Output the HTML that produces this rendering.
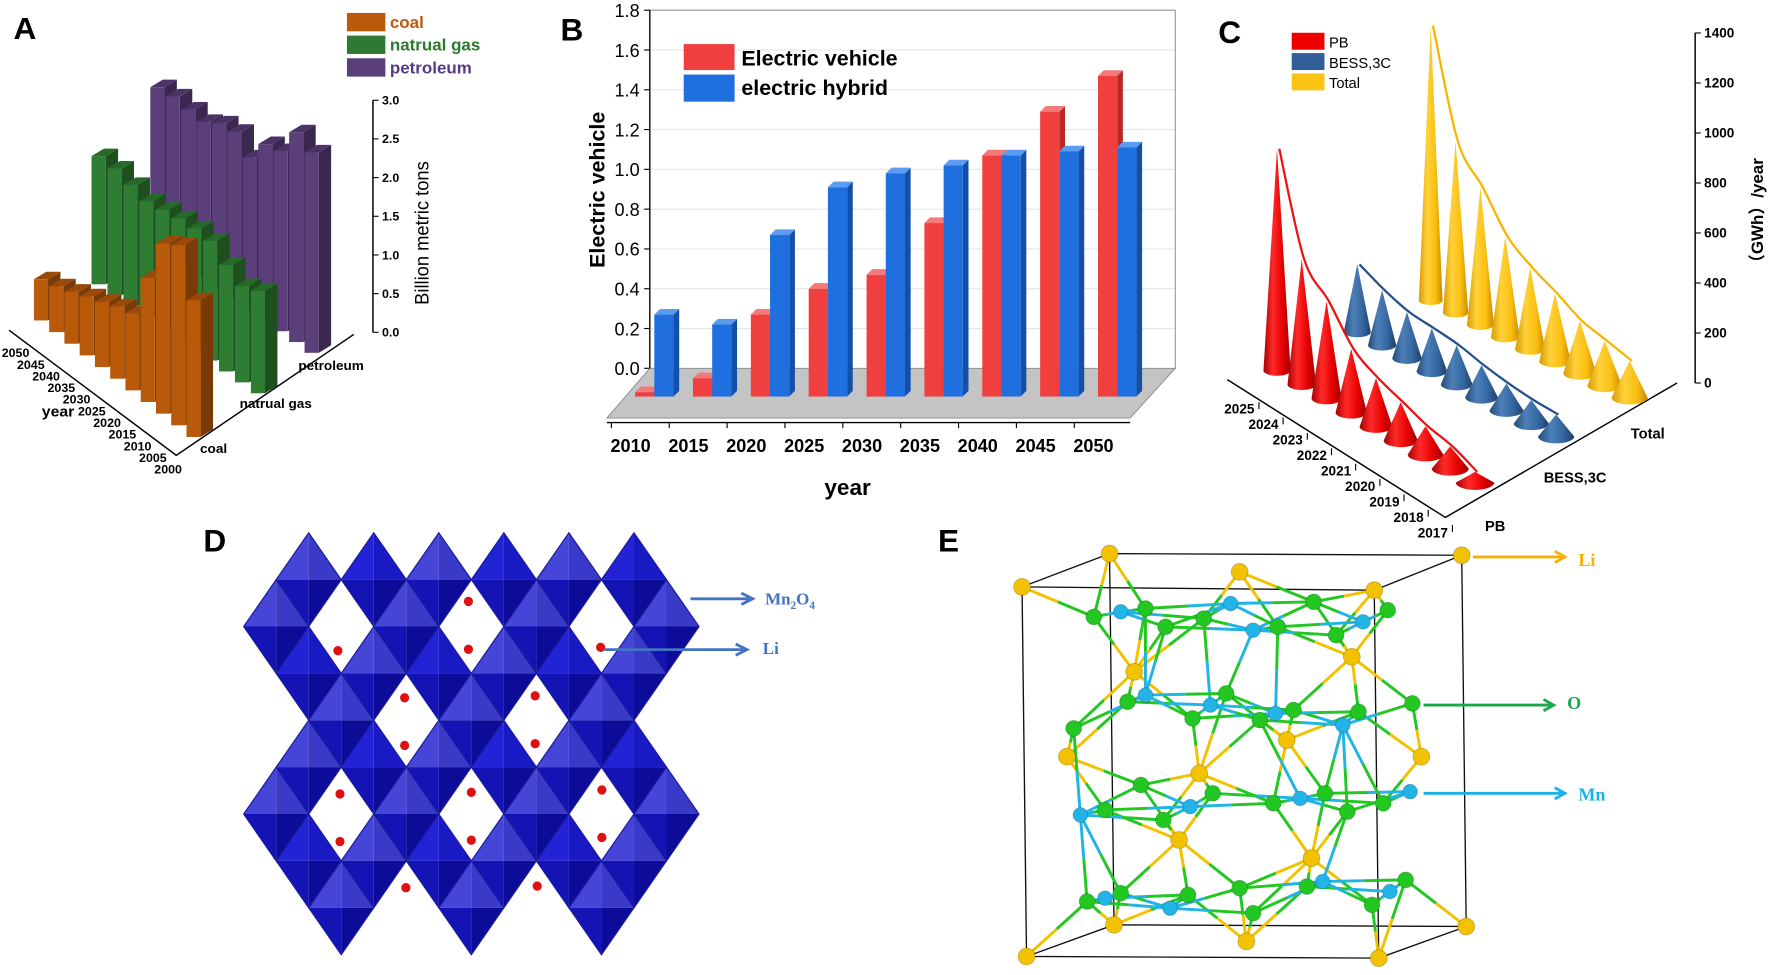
<!DOCTYPE html>
<html><head><meta charset="utf-8">
<style>
html,body{margin:0;padding:0;background:#fff;overflow:hidden;}
svg{display:block;font-family:"Liberation Sans",sans-serif;}
</style></head>
<body>
<svg id="fig" xmlns="http://www.w3.org/2000/svg" width="1772" height="975" viewBox="0 0 1568 863" preserveAspectRatio="none">
<defs>
<linearGradient id="gRed" x1="0" x2="1" y1="0" y2="0"><stop offset="0" stop-color="#a80000"/><stop offset="0.35" stop-color="#ff2a2a"/><stop offset="0.7" stop-color="#e60000"/><stop offset="1" stop-color="#9a0000"/></linearGradient>
<linearGradient id="gBlue" x1="0" x2="1" y1="0" y2="0"><stop offset="0" stop-color="#244a78"/><stop offset="0.35" stop-color="#4d80b8"/><stop offset="0.7" stop-color="#3566a0"/><stop offset="1" stop-color="#213f68"/></linearGradient>
<linearGradient id="gYel" x1="0" x2="1" y1="0" y2="0"><stop offset="0" stop-color="#d99a00"/><stop offset="0.35" stop-color="#ffd23a"/><stop offset="0.7" stop-color="#fbbf10"/><stop offset="1" stop-color="#c88a00"/></linearGradient>
</defs>
<rect x="0" y="0" width="1568" height="863" fill="#fff"/>
<g id="pA" transform="scale(1,0.955)"></g>
<g id="pB"></g>
<g id="pC"></g>
<g id="pD"></g>
<g id="pE"></g>
</svg>
<script>
// ---------- Panel A data ----------
const aYears = ['2050','2045','2040','2035','2030','2025','2020','2015','2010','2005','2000'];
const aCoal = [0.53,0.59,0.67,0.76,0.84,0.93,0.99,1.6,2.19,2.32,1.76];
const aGas = [1.65,1.63,1.56,1.49,1.52,1.55,1.56,1.54,1.37,1.24,1.32];
const aPetro = [2.03,2.05,2.02,2.0,2.12,2.15,1.96,2.27,2.32,2.7,2.58];
const aTicks = ['0.0','0.5','1.0','1.5','2.0','2.5','3.0'];
const aTickVals = [0,0.5,1,1.5,2,2.5,3];
// ---------- Panel B data ----------
const bYears = ['2010','2015','2020','2025','2030','2035','2040','2045','2050'];
const bEV = [-0.12,-0.05,0.27,0.40,0.47,0.73,1.07,1.29,1.47];
const bHybrid = [0.27,0.22,0.67,0.91,0.98,1.02,1.07,1.09,1.11];
const bTickVals = [0,0.2,0.4,0.6,0.8,1.0,1.2,1.4,1.6,1.8];
const bTicks = ['0.0','0.2','0.4','0.6','0.8','1.0','1.2','1.4','1.6','1.8'];
// ---------- Panel C data ----------
const cYears = ['2025','2024','2023','2022','2021','2020','2019','2018','2017'];
const cPB = [887,503,390,255,194,154,114,89,43];
const cBESS = [271,221,185,172,157,129,108,94,88];
const cTotal = [1100,686,551,402,326,271,210,179,147];
const cTickVals = [0,200,400,600,800,1000,1200,1400];
const cTicks = ['0','200','400','600','800','1000','1200','1400'];

const NS = 'http://www.w3.org/2000/svg';
function el(tag, attrs, parent){ const e=document.createElementNS(NS,tag); for(const k in attrs) e.setAttribute(k,attrs[k]); parent.appendChild(e); return e; }
function txt(s, attrs, parent){ const e=el('text',attrs,parent); e.textContent=s; return e; }
function bar3d(g,x,yb,w,h,dx,dy,cf,cs,ct){
  const yt=yb-h;
  const grp=el('g',{},g);
  el('polygon',{points:`${x+w},${yt} ${x+w+dx},${yt+dy} ${x+w+dx},${yb+dy} ${x+w},${yb}`,fill:cs},grp);
  el('polygon',{points:`${x},${yt} ${x+dx},${yt+dy} ${x+w+dx},${yt+dy} ${x+w},${yt}`,fill:ct},grp);
  el('rect',{x:x,y:yt,width:w,height:h,fill:cf},grp);
  return grp;
}

// ================= PANEL A =================
(function(){
  const g=document.getElementById('pA');
  let t=txt('A',{x:12,y:36,'font-size':28,'font-weight':'bold'},g);
   
  const leg=[['coal','#b85a0a','#c0580e'],['natrual gas','#2f7a32','#2a7a2e'],['petroleum','#5a3f7a','#553a85']];
  leg.forEach((L,i)=>{
    const r=el('rect',{x:307,y:12+i*21,width:34,height:17,fill:L[1]},g);
     
    const tt=txt(L[0],{x:345,y:26+i*21,'font-size':15,'font-weight':'bold',fill:L[2]},g);
     
  });
  const k=72, w=12.5, dx=11, dy=-7;
  const rows=[
    {v:aPetro,x0:133,y0:227,sx:13.65,sy:10,c:['#5a3f7a','#3a2850','#4a3466'],n:'petroleum'},
    {v:aGas,x0:81,y0:263.5,sx:14.1,sy:10.1,c:['#2f7d32','#1d4f1f','#266a29'],n:'gas'},
    {v:aCoal,x0:30,y0:297,sx:13.5,sy:10.8,c:['#b85a0a','#7a3a05','#99490a'],n:'coal'}
  ];
  rows.forEach(R=>{
    R.v.forEach((v,i)=>{
      const b=bar3d(g,R.x0+i*R.sx,R.y0+i*R.sy,w,v*k,dx,dy,R.c[0],R.c[1],R.c[2]);
       
    });
  });
  const ax=el('polyline',{points:'8,306 156,422 313,310',fill:'none',stroke:'#000','stroke-width':1.3},g);
   
  const va=el('line',{x1:330,y1:93,x2:330,y2:308,stroke:'#000','stroke-width':1.3},g);
   
  aTickVals.forEach((v,i)=>{
    const y=308-v*71.7;
    el('line',{x1:330,y1:y,x2:335,y2:y,stroke:'#000','stroke-width':1},g);
    const tl=txt(aTicks[i],{x:338,y:y+4,'font-size':11,'font-weight':'bold'},g);
     
  });
  const zt=txt('Billion metric tons',{x:0,y:0,'font-size':17,'text-anchor':'middle',transform:'translate(379,216) rotate(-90)'},g);
   
  aYears.forEach((yr,i)=>{
    const tl=txt(yr,{x:26+i*13.5,y:331+i*10.8,'font-size':11,'font-weight':'bold','text-anchor':'end'},g);
     
  });
  let yt=txt('year',{x:37,y:386,'font-size':14,'font-weight':'bold'},g);
   
  [['coal',177,420],['natrual gas',212,378],['petroleum',264,343]].forEach(c=>{
    const cl=txt(c[0],{x:c[1],y:c[2],'font-size':12,'font-weight':'bold'},g);
     
  });
})();

// ================= PANEL B =================
(function(){
  const g=document.getElementById('pB');
  const yB=v=>326-v*176.1, xB=i=>558+i*51.2;
  let t=txt('B',{x:496,y:36,'font-size':28,'font-weight':'bold'},g);
   
  bTickVals.forEach((v,i)=>{
    if(i>0){ const gl=el('line',{x1:575,y1:yB(v),x2:1040,y2:yB(v),stroke:'#e6e6e6','stroke-width':1},g);
        }
    el('line',{x1:570,y1:yB(v),x2:575,y2:yB(v),stroke:'#000','stroke-width':1},g);
    const tl=txt(bTicks[i],{x:566,y:yB(v)+6,'font-size':16,'text-anchor':'end'},g);
     
  });
  el('line',{x1:575,y1:9,x2:1040,y2:9,stroke:'#999','stroke-width':1},g);
  el('line',{x1:1040,y1:9,x2:1040,y2:326,stroke:'#999','stroke-width':1},g);
  const fl=el('polygon',{points:'575,326 1040,326 1000,370 537,370',fill:'#c4c4c4',stroke:'#888','stroke-width':0.8},g);
   
  const ya=el('line',{x1:575,y1:9,x2:575,y2:326,stroke:'#000','stroke-width':1.2},g);
   
  const xa=el('line',{x1:537,y1:374,x2:1000,y2:374,stroke:'#000','stroke-width':1.2},g);
   
  const base=351;
  bYears.forEach((yr,i)=>{
    const x=xB(i);
    const r=bar3d(g,x+4,base,17,base-yB(bEV[i]),5,-5,'#ef3f3f','#b82828','#f47a7a');
     
    const b=bar3d(g,x+21,base,17,base-yB(bHybrid[i]),5,-5,'#1f6fde','#1550a8','#5b9bf0');
     
    el('line',{x1:x-17,y1:374,x2:x-17,y2:379,stroke:'#000','stroke-width':1},g);
    const tl=txt(yr,{x:x,y:400,'font-size':16,'font-weight':'bold','text-anchor':'middle'},g);
     
  });
  const xt=txt('year',{x:750,y:438,'font-size':20,'font-weight':'bold','text-anchor':'middle'},g);
   
  const yt=txt('Electric vehicle',{x:0,y:0,'font-size':19,'font-weight':'bold','text-anchor':'middle',transform:'translate(535,168) rotate(-90)'},g);
   
  const l1=el('rect',{x:605,y:39,width:45,height:23,fill:'#ef3f3f'},g);
   
  const l2=el('rect',{x:605,y:66,width:45,height:24,fill:'#1f6fde'},g);
   
  const lt1=txt('Electric vehicle',{x:656,y:58,'font-size':19,'font-weight':'bold'},g);
   
  const lt2=txt('electric hybrid',{x:656,y:84,'font-size':19,'font-weight':'bold'},g);
   
})();

// ================= PANEL C =================
(function(){
  const g=document.getElementById('pC');
  const kC=0.2213;
  let t=txt('C',{x:1078,y:38,'font-size':28,'font-weight':'bold'},g);
   
  const leg=[['PB','#ee0000'],['BESS,3C','#2f5f96'],['Total','#fbc314']];
  leg.forEach((L,i)=>{
    const r=el('rect',{x:1143,y:29+i*18,width:29,height:15,fill:L[1]},g);
     
    const tt=txt(L[0],{x:1176,y:42+i*18,'font-size':13},g);
     
  });
  const va=el('line',{x1:1500,y1:29,x2:1500,y2:339,stroke:'#000','stroke-width':1.3},g);
   
  cTickVals.forEach((v,i)=>{
    const y=339-v*kC;
    el('line',{x1:1500,y1:y,x2:1505,y2:y,stroke:'#000','stroke-width':1},g);
    const tl=txt(cTicks[i],{x:1508,y:y+4,'font-size':12,'font-weight':'bold'},g);
     
  });
  const zt=txt('（GWh）/year',{x:0,y:0,'font-size':15,'font-weight':'bold','text-anchor':'middle',transform:'translate(1560,190) rotate(-90)'},g);
  zt.setAttribute('font-family','"Liberation Sans","Noto Sans CJK SC",sans-serif');
   
  const fa=el('polyline',{points:'1086,336 1279,458 1484,339',fill:'none',stroke:'#000','stroke-width':1.3},g);
   
  cYears.forEach((yr,i)=>{
    const tl=txt(yr,{x:1110+i*21.4,y:366+i*13.7,'font-size':12,'font-weight':'bold','text-anchor':'end'},g);
     
    el('line',{x1:1114+i*21.4,y1:356+i*13.6,x2:1114+i*21.4,y2:362+i*13.6,stroke:'#000','stroke-width':1},g);
  });
  [['Total',1443,388],['BESS,3C',1366,427],['PB',1314,470]].forEach(c=>{
    const cl=txt(c[0],{x:c[1],y:c[2],'font-size':13,'font-weight':'bold'},g);
     
  });
  const rows=[
    {v:cTotal,x0:1266,y0:266,sx:22,sy:10.75,hw0:10.5,hw1:16,f:'url(#gYel)',line:'#f7b500',n:'total'},
    {v:cBESS,x0:1201,y0:294,sx:22,sy:11.55,hw0:12,hw1:16,f:'url(#gBlue)',line:'#24508a',n:'bess'},
    {v:cPB,x0:1130,y0:328,sx:21.9,sy:12.4,hw0:12,hw1:17,f:'url(#gRed)',line:'#ee1111',n:'pb'}
  ];
  rows.forEach(R=>{
    const apex=[];
    R.v.forEach((v,i)=>{
      const cx=R.x0+i*R.sx, cy=R.y0+i*R.sy, hw=R.hw0+(R.hw1-R.hw0)*i/8, ry=hw*0.38;
      const h=v*kC;
      const cg=el('g',{},g);
       
      el('path',{d:`M${cx-hw},${cy} L${cx},${cy-h} L${cx+hw},${cy} A${hw},${ry} 0 0 1 ${cx-hw},${cy} Z`,fill:R.f},cg);
      apex.push([cx+2,cy-h]);
    });
    let d='M'+apex[0][0]+','+apex[0][1];
    for(let i=0;i<apex.length-1;i++){
      const p0=apex[Math.max(0,i-1)],p1=apex[i],p2=apex[i+1],p3=apex[Math.min(apex.length-1,i+2)];
      const c1=[p1[0]+(p2[0]-p0[0])/6,p1[1]+(p2[1]-p0[1])/6], c2=[p2[0]-(p3[0]-p1[0])/6,p2[1]-(p3[1]-p1[1])/6];
      d+=` C${c1[0]},${c1[1]} ${c2[0]},${c2[1]} ${p2[0]},${p2[1]}`;
    }
    const ln=el('path',{d:d,fill:'none',stroke:R.line,'stroke-width':2},g);
     
  });
})();

// ================= PANEL D =================
(function(){
  const g=document.getElementById('pD');
  let t=txt('D',{x:180,y:488,'font-size':28,'font-weight':'bold'},g);
   
  const s=el('g',{transform:'translate(168,459.7) scale(0.369,0.2964)'},g);
   
  const filled={0:[0,2,4,6,8,10],1:[-1,3,7,11],2:[0,2,4,6,8,10],3:[1,5,9],4:[0,2,4,6,8,10],5:[-1,3,7,11],6:[0,2,4,6,8,10],7:[1,5,9]};
  const W=78,H=140;
  Object.keys(filled).forEach(j=>{
    filled[j].forEach(i=>{
      const cx=285+W*i, cy=180+H*(+j);
      const lightTop=((i+(+j))%4===0);
      el('polygon',{points:`${cx},${cy-H} ${cx-W},${cy} ${cx},${cy}`,fill:lightTop?'#4545d8':'#2323d6'},s);
      el('polygon',{points:`${cx},${cy-H} ${cx+W},${cy} ${cx},${cy}`,fill:lightTop?'#3a3ac8':'#1a1ac4'},s);
      el('polygon',{points:`${cx-W},${cy} ${cx},${cy+H} ${cx},${cy}`,fill:'#1414b4'},s);
      el('polygon',{points:`${cx+W},${cy} ${cx},${cy+H} ${cx},${cy}`,fill:'#0c0c98'},s);
      el('polygon',{points:`${cx},${cy-H} ${cx-W},${cy} ${cx},${cy+H} ${cx+W},${cy}`,fill:'none',stroke:'#1a1aa0','stroke-width':3},s);
    });
  });
  const li=[[355,392],[668,245],[668,388],[985,382],[515,533],[828,527],[515,675],[828,670],[360,820],[675,815],[988,808],[360,962],[675,958],[988,950],[518,1100],[833,1095]];
  li.forEach(p=>{ const c=el('ellipse',{cx:p[0],cy:p[1],rx:11,ry:14,fill:'#e01010'},s);
      });
  const a1=el('path',{d:'M611,530 L663,530 M656,525 L666,530 L656,535',stroke:'#4472c4','stroke-width':2.5,fill:'none'},g);
   
  const a2=el('path',{d:'M535,575 L658,575 M651,570 L661,575 L651,580',stroke:'#4472c4','stroke-width':2.5,fill:'none'},g);
   
  const m=el('text',{x:677,y:535,'font-size':15,'font-family':'"Liberation Serif",serif','font-weight':'bold',fill:'#4472c4'},g);
  m.innerHTML='Mn<tspan font-size="10" dy="4">2</tspan><tspan dy="-4">O</tspan><tspan font-size="10" dy="4">4</tspan>';
   
  const l=txt('Li',{x:675,y:579,'font-size':15,'font-family':'"Liberation Serif",serif','font-weight':'bold',fill:'#4472c4'},g);
   
})();

// ================= PANEL E =================
(function(){
  const g=document.getElementById('pE');
  let t=txt('E',{x:830,y:488,'font-size':28,'font-weight':'bold'},g);
   
  const X=zx=>823+zx*0.397, Y=zy=>462+zy*0.2947;
  const P=p=>[X(p[0]),Y(p[1])];
  const s=el('g',{},g);
   
  const bk=[[400,95],[1185,100],[1195,1215],[410,1210]].map(P), fr=[[205,195],[990,205],[1000,1310],[215,1305]].map(P);
  let d='M'+bk.map(p=>p.join(',')).join(' L')+' Z M'+fr.map(p=>p.join(',')).join(' L')+' Z';
  for(let i=0;i<4;i++) d+=` M${bk[i][0]},${bk[i][1]} L${fr[i][0]},${fr[i][1]}`;
  const box=el('path',{d:d,fill:'none',stroke:'#111','stroke-width':1.2},s);
   
  const Li=[[400,95],[1185,100],[205,195],[990,205],[690,150],[455,450],[940,405],[305,705],[1095,705],[600,755],[795,655],[555,955],[850,1010],[410,1210],[1195,1215],[215,1305],[1000,1310],[705,1260]];
  const O=[[365,285],[480,260],[610,290],[525,315],[855,240],[775,315],[905,340],[1020,265],[440,540],[320,620],[585,590],[660,515],[735,595],[810,565],[955,570],[1075,545],[470,790],[630,815],[765,845],[880,815],[1010,845],[930,870],[390,865],[520,895],[350,1140],[425,1115],[575,1120],[690,1100],[720,1175],[840,1095],[985,1150],[1060,1075]];
  const Mn=[[425,270],[670,245],[720,325],[965,300],[480,520],[625,550],[770,575],[920,610],[335,880],[580,855],[825,830],[1070,810],[390,1130],[535,1160],[875,1080],[1025,1110]];
  const atoms=[];
  Li.forEach(p=>atoms.push({p:P(p),t:'li',c:'#f2c200'}));
  O.forEach(p=>atoms.push({p:P(p),t:'o',c:'#22c722'}));
  Mn.forEach(p=>atoms.push({p:P(p),t:'mn',c:'#22b4e6'}));
  const bonds=el('g',{},s);
   
  for(let a=0;a<atoms.length;a++) for(let b=a+1;b<atoms.length;b++){
    const A=atoms[a],B=atoms[b];
    if(A.t===B.t) continue;
    if(A.t==='li'&&B.t==='mn') continue;
    const dd=Math.hypot(A.p[0]-B.p[0],A.p[1]-B.p[1]);
    if(dd<78){
      const mx=(A.p[0]+B.p[0])/2,my=(A.p[1]+B.p[1])/2;
      el('line',{x1:A.p[0],y1:A.p[1],x2:mx,y2:my,stroke:A.c,'stroke-width':2.6},bonds);
      el('line',{x1:mx,y1:my,x2:B.p[0],y2:B.p[1],stroke:B.c,'stroke-width':2.6},bonds);
    }
  }
  atoms.forEach(A=>{
    const r=A.t==='li'?7.5:A.t==='o'?7:6.5;
    const c=el('circle',{cx:A.p[0],cy:A.p[1],r:r,fill:A.c,stroke:'rgba(0,0,0,0.2)','stroke-width':0.8},s);
     
  });
  const arrows=[[1210,105,1415,'#f5b000','Li',1445,115,'li'],[1100,550,1390,'#1aa84a','O',1420,545,'o'],[1100,815,1415,'#1ab0e8','Mn',1445,820,'mn']];
  arrows.forEach(A=>{
    const x1=X(A[0]),x2=X(A[2]),y=Y(A[1]);
    const ar=el('path',{d:`M${x1},${y} L${x2-3},${y} M${x2-9},${y-5} L${x2},${y} L${x2-9},${y+5}`,stroke:A[3],'stroke-width':2.5,fill:'none'},s);
     
    const tl=txt(A[4],{x:X(A[5]),y:Y(A[6])+5,'font-size':16,'font-family':'"Liberation Serif",serif','font-weight':'bold',fill:A[3]},s);
     
  });
})();
</script>
</body></html>
